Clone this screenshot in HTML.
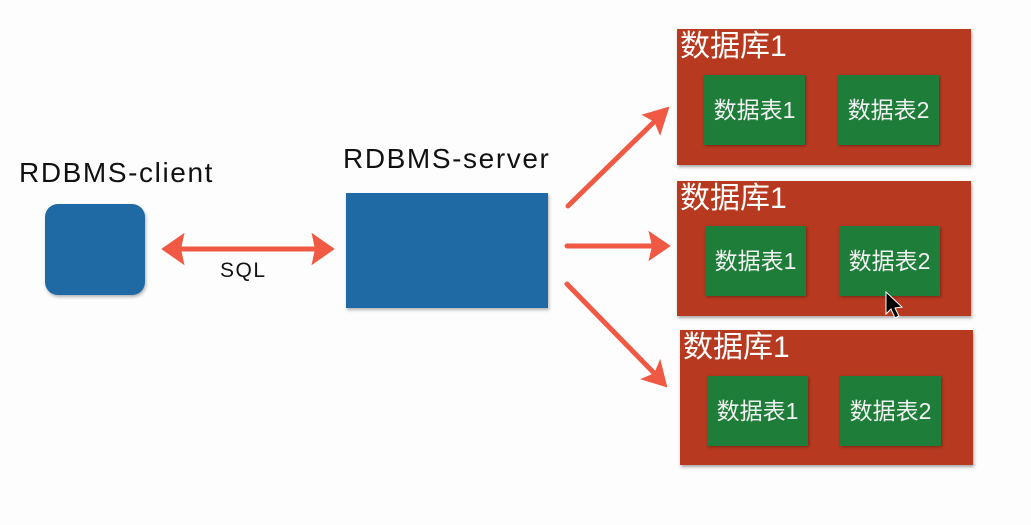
<!DOCTYPE html>
<html><head><meta charset="utf-8"><style>
body{margin:0;width:1031px;height:525px;background:#fdfdfd;position:relative;overflow:hidden;font-family:"Liberation Sans","Noto Sans CJK SC",sans-serif}
.a{position:absolute}
.db{position:absolute;background:#b73a20;box-shadow:1px 2px 3px rgba(0,0,0,.35)}
.db .t{position:absolute;left:3px;top:1px;color:#fff;font-size:30px;line-height:34px}
.tb{position:absolute;width:101px;height:70px;background:#1f7d3a;color:#f2f2f2;font-size:23px;line-height:70px;text-align:center;box-shadow:1px 1px 3px rgba(0,0,0,.35)}
</style></head><body>
<div class="a" style="left:19px;top:157px;font-size:28px;letter-spacing:1.6px;color:#111">RDBMS-client</div>
<div class="a" style="left:343px;top:143px;font-size:28px;letter-spacing:1.6px;color:#111">RDBMS-server</div>
<div class="a" style="left:220px;top:259px;font-size:21px;letter-spacing:1.5px;color:#111">SQL</div>
<div class="a" style="left:45px;top:204px;width:100px;height:91px;background:#1f69a5;border-radius:13px;box-shadow:1px 2px 3px rgba(0,0,0,.3)"></div>
<div class="a" style="left:346px;top:193px;width:202px;height:115px;background:#1f69a5;box-shadow:1px 2px 3px rgba(0,0,0,.3)"></div>

<div class="db" style="left:677px;top:29px;width:294px;height:136px"><div class="t">数据库1</div>
<div class="tb" style="left:27px;top:46px">数据表1</div><div class="tb" style="left:161px;top:46px">数据表2</div></div>
<div class="db" style="left:677px;top:181px;width:294px;height:135px"><div class="t">数据库1</div>
<div class="tb" style="left:28px;top:45px">数据表1</div><div class="tb" style="left:162px;top:45px">数据表2</div></div>
<div class="db" style="left:680px;top:330px;width:293px;height:135px"><div class="t">数据库1</div>
<div class="tb" style="left:27px;top:46px">数据表1</div><div class="tb" style="left:160px;top:46px">数据表2</div></div>

<svg class="a" style="left:0;top:0" width="1031" height="525">
<g stroke="#f05a45" stroke-width="5" fill="#f05a45" stroke-linecap="round">
<line x1="178" y1="249" x2="318" y2="249"/>
<polygon points="163,249 183,235 180,249 183,263" stroke-width="2"/>
<polygon points="333,249 313,235 316,249 313,263" stroke-width="2"/>
<line x1="568" y1="206" x2="656" y2="120"/>
<polygon points="668,108 644,115 655,121 660,133" stroke-width="2"/>
<line x1="567" y1="246" x2="654" y2="246"/>
<polygon points="669,246 650,233 653,246 650,259" stroke-width="2"/>
<line x1="567" y1="284" x2="654" y2="373"/>
<polygon points="666,386 660,362 655,374 643,379" stroke-width="2"/>
</g>
<polygon points="886,292 886,314 891,309 895,318 899,316 895,308 902,307" fill="#000" stroke="#fff" stroke-width="1"/>
</svg>
</body></html>
